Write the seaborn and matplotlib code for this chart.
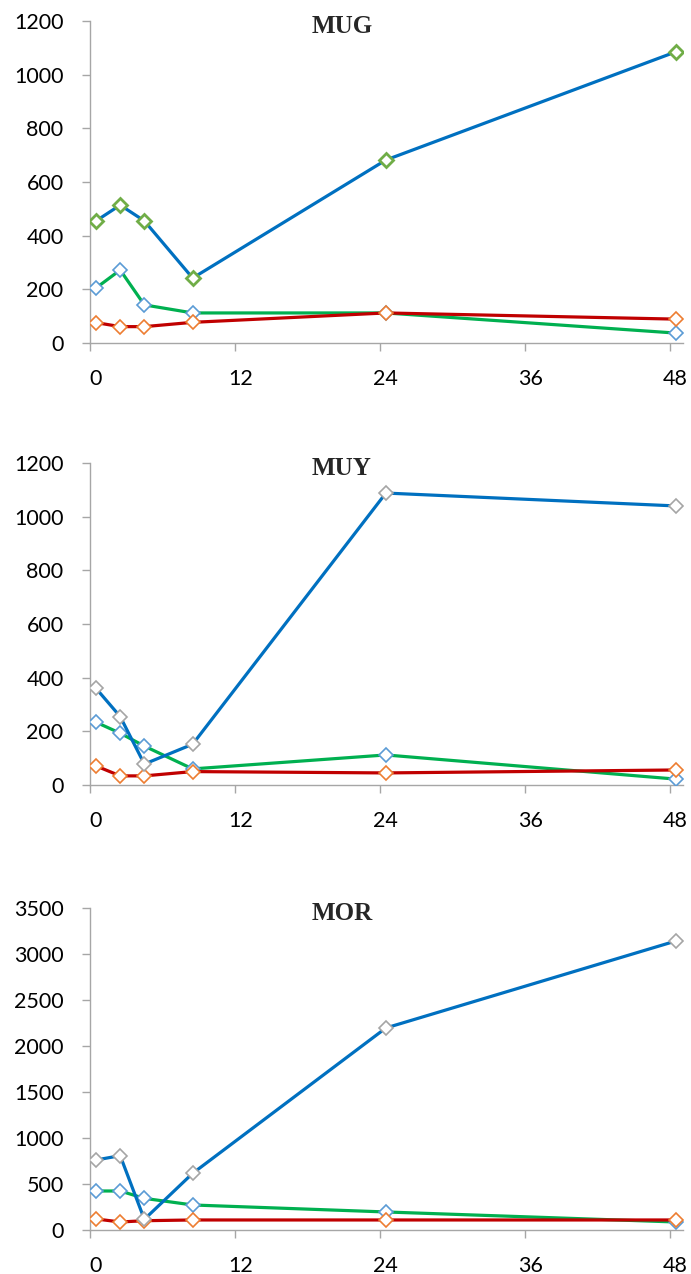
import matplotlib
matplotlib.use("Agg")
import matplotlib.pyplot as plt
import matplotlib.transforms as mtransforms
import seaborn as sns
import pandas as pd

# Sampling times (h)
hours = [0.5, 2.5, 4.5, 8.5, 24.5, 48.5]

# Panel titles
panels = ["MUG", "MUY", "MOR"]

# Upper series (blue line)
mug_blue = [455, 514, 455, 242, 682, 1085]
muy_blue = [360, 255, 78, 152, 1088, 1040]
mor_blue = [761, 808, 116, 616, 2196, 3141]

# Middle series (green line)
mug_green = [205, 272, 142, 112, 112, 37]
muy_green = [234, 193, 145, 60, 112, 22]
mor_green = [424, 424, 344, 272, 196, 87]

# Lower series (red line)
mug_red = [76, 61, 61, 77, 112, 89]
muy_red = [71, 34, 34, 50, 45, 56]
mor_red = [120, 87, 101, 109, 109, 109]

y_max = [1200, 1200, 3500]
y_step = [200, 200, 500]
x_ticks = [0, 12, 24, 36, 48]

blue_marker = ["#70AD47", "#A5A5A5", "#A5A5A5"]

sns.set_theme(style="white")
plt.rcParams["font.family"] = ["Lato", "DejaVu Sans"]

fig = plt.figure(figsize=(6.91, 12.74), dpi=100)
bottoms = [1 - 343 / 1274, 1 - 785 / 1274, 1 - 1230 / 1274]
left, width, height = 90 / 691, 593 / 691, 322 / 1274

blues = [mug_blue, muy_blue, mor_blue]
greens = [mug_green, muy_green, mor_green]
reds = [mug_red, muy_red, mor_red]

# category-style label placement: x labels sit slightly right of their ticks
shift = mtransforms.ScaledTranslation(5.5 / 100, 0, fig.dpi_scale_trans)

for i, name in enumerate(panels):
    ax = fig.add_axes([left, bottoms[i], width, height])
    df = pd.DataFrame({"t": hours, "blue": blues[i], "green": greens[i], "red": reds[i]})
    series = [
        ("green", "#00B050", "#5B9BD5", 1.2),
        ("red", "#C00000", "#ED7D31", 1.2),
        ("blue", "#0070C0", blue_marker[i], 2.0 if i == 0 else 1.2),
    ]
    for k, (col, lc, mc, mew) in enumerate(series):
        sns.lineplot(data=df, x="t", y=col, ax=ax, color=lc, linewidth=2.3,
                     marker="D", markersize=7.5, markerfacecolor="white",
                     markeredgecolor=mc, markeredgewidth=mew, zorder=3 + k)
    ax.set_xlim(0, 49.1)
    ax.set_ylim(0, y_max[i])
    ax.set_xticks(x_ticks)
    ax.set_yticks(range(0, y_max[i] + 1, y_step[i]))
    ax.set_xlabel("")
    ax.set_ylabel("")
    for s in ["top", "right"]:
        ax.spines[s].set_visible(False)
    for s in ["left", "bottom"]:
        ax.spines[s].set_color("#A6A6A6")
        ax.spines[s].set_linewidth(1.0)
    ax.tick_params(axis="both", which="both", direction="out",
                   width=1.0, color="#A6A6A6", labelsize=15.5, labelcolor="black")
    ax.tick_params(axis="y", length=6, pad=13, left=True)
    ax.tick_params(axis="x", length=5.5, pad=13.5, bottom=True)
    for lab in ax.get_xticklabels():
        lab.set_transform(lab.get_transform() + shift)
    ax.text(0.425, 0.984, name, transform=ax.transAxes, ha="center", va="center",
            fontsize=18, fontweight="bold", family=["Liberation Serif"])

fig.savefig("out.png", dpi=100)
